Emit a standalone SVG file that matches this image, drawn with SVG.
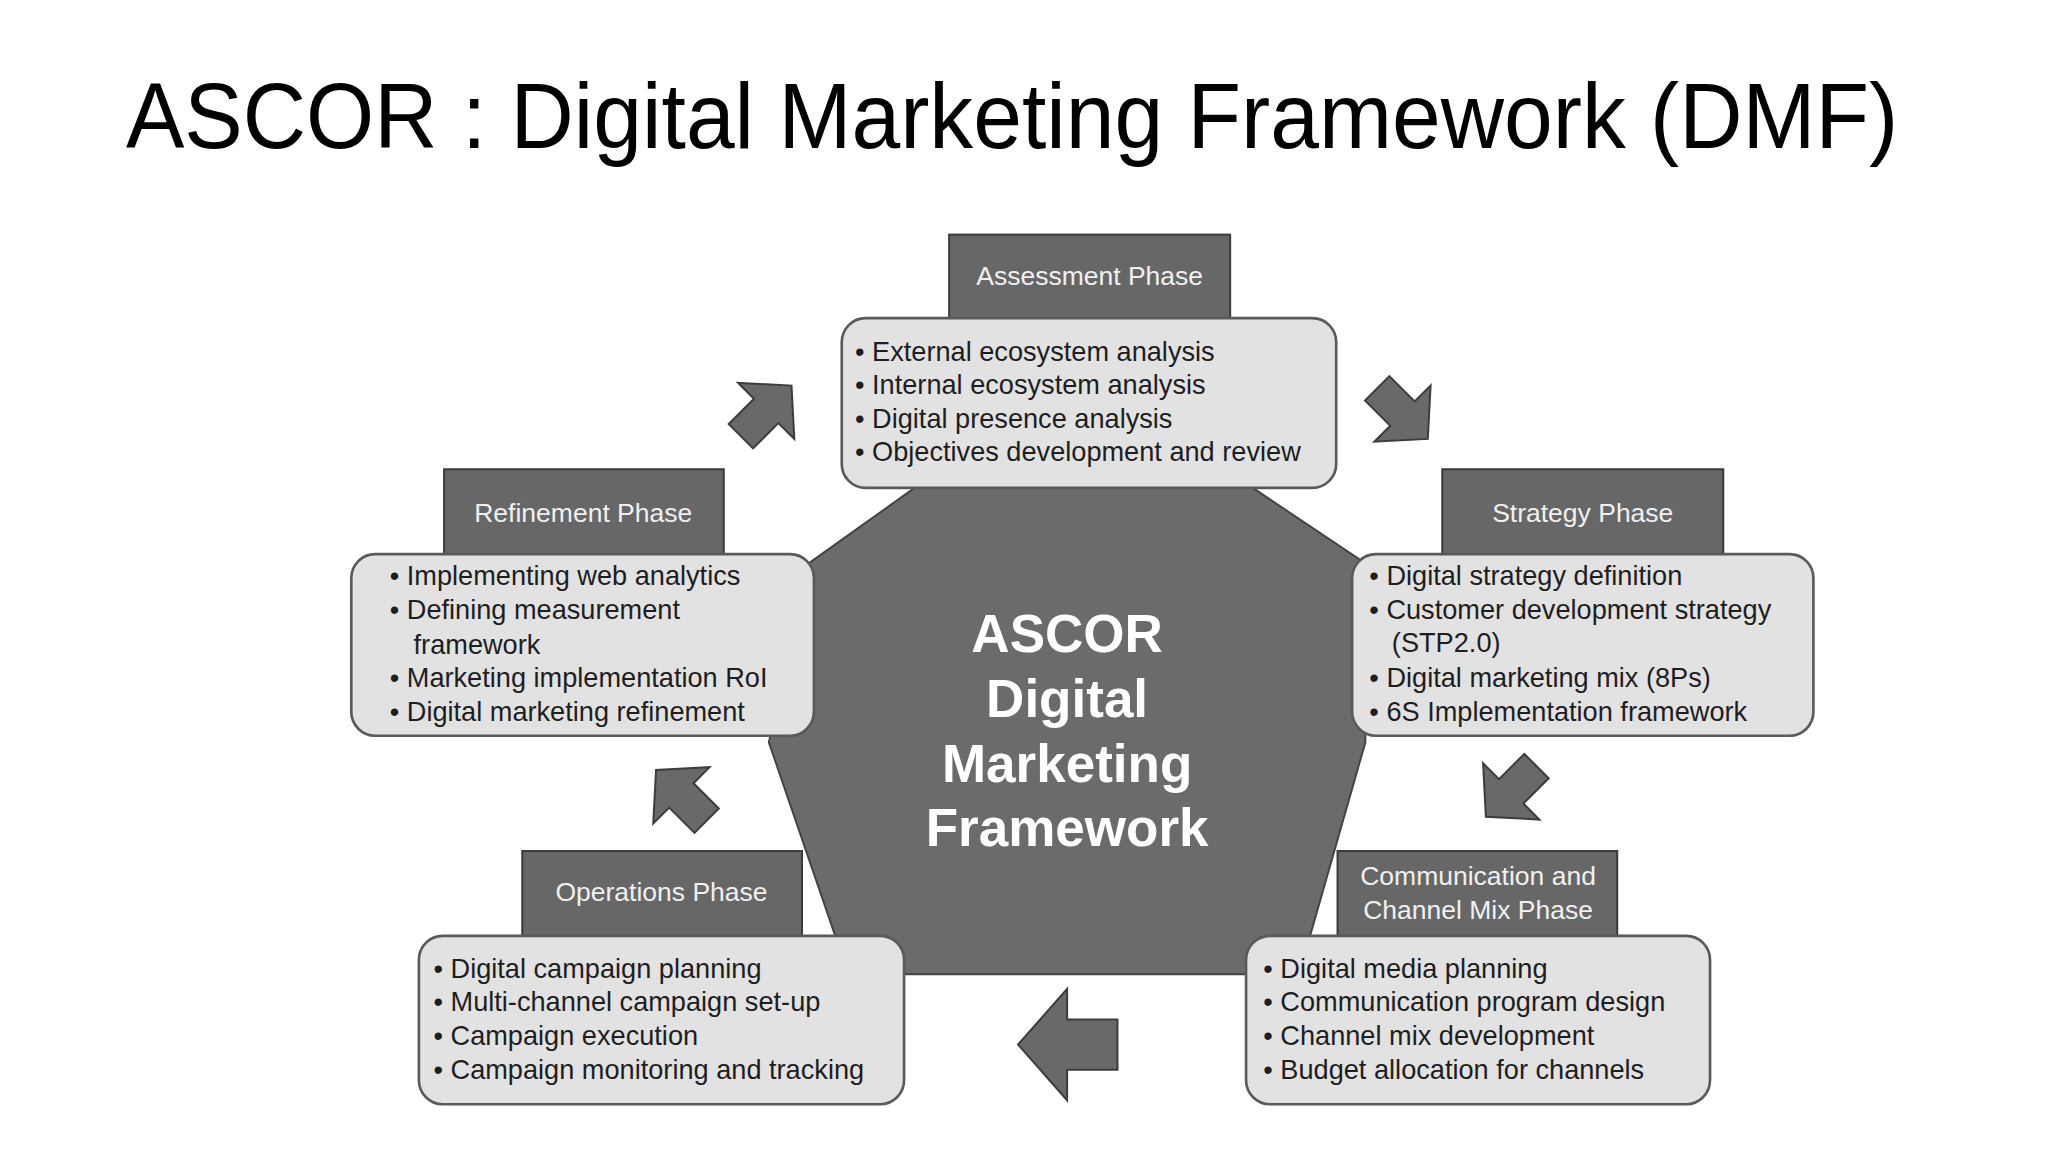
<svg xmlns="http://www.w3.org/2000/svg" width="2048" height="1152" viewBox="0 0 2048 1152">
<style>
.hdr{fill:#676767;stroke:#3a3a3a;stroke-width:1.5}
.box{fill:#e2e2e2;stroke:#5a5a5a;stroke-width:2}
.ht{font-family:"Liberation Sans",Arial,sans-serif;font-size:20px;fill:#f0f0f0;text-anchor:middle}
.bt{font-family:"Liberation Sans",Arial,sans-serif;font-size:20.5px;fill:#1e1e1e}
.arr{fill:#696969;stroke:#3c3c3c;stroke-width:1.5}
.ct{font-family:"Liberation Sans",Arial,sans-serif;font-size:40px;font-weight:bold;fill:#fff;text-anchor:middle}
</style>
<defs>
<polygon id="da" points="-27,-13 0,-13 0,-30 27,0 0,30 0,13 -27,13"/>
</defs>
<rect width="2048" height="1152" fill="#fff"/>
<g transform="scale(1.3256)">
<text x="95" y="112" font-family="Liberation Sans,Arial,sans-serif" font-size="70" fill="#000" textLength="1337" lengthAdjust="spacingAndGlyphs">ASCOR : Digital Marketing Framework (DMF)</text>
<g id="center">
<polygon points="690,368 945,368 1030,425 1030,560 980,735 640,735 580,560 610,425" fill="#6b6b6b" stroke="#444" stroke-width="1.5"/>
<text class="ct" x="805" y="492">ASCOR</text>
<text class="ct" x="805" y="541">Digital</text>
<text class="ct" x="805" y="590">Marketing</text>
<text class="ct" x="805" y="638">Framework</text>
</g>
<g id="connectors">
<use href="#da" class="arr" transform="translate(578,310) rotate(-45)"/>
<use href="#da" class="arr" transform="translate(1058,312) rotate(45)"/>
<use href="#da" class="arr" transform="translate(1140,597) rotate(135)"/>
<use href="#da" class="arr" transform="translate(514,600) rotate(-135)"/>
<polygon class="arr" points="843,769 805,769 805,746 768,788 805,830 805,807 843,807"/>
</g>
<g id="assessment">
<rect class="hdr" x="716" y="177" width="212" height="63"/>
<text class="ht" x="822" y="215">Assessment Phase</text>
<rect class="box" x="635" y="240" width="373" height="128" rx="18"/>
<text class="bt" x="645" y="272">• External ecosystem analysis</text>
<text class="bt" x="645" y="297">• Internal ecosystem analysis</text>
<text class="bt" x="645" y="323">• Digital presence analysis</text>
<text class="bt" x="645" y="348">• Objectives development and review</text>
</g>
<g id="strategy">
<rect class="hdr" x="1088" y="354" width="212" height="64"/>
<text class="ht" x="1194" y="394">Strategy Phase</text>
<rect class="box" x="1020" y="418" width="348" height="137" rx="18"/>
<text class="bt" x="1033" y="441">• Digital strategy definition</text>
<text class="bt" x="1033" y="467">• Customer development strategy</text>
<text class="bt" x="1050" y="492">(STP2.0)</text>
<text class="bt" x="1033" y="518">• Digital marketing mix (8Ps)</text>
<text class="bt" x="1033" y="544">• 6S Implementation framework</text>
</g>
<g id="refinement">
<rect class="hdr" x="335" y="354" width="211" height="64"/>
<text class="ht" x="440" y="394">Refinement Phase</text>
<rect class="box" x="265" y="418" width="349" height="137" rx="18"/>
<text class="bt" x="294" y="441">• Implementing web analytics</text>
<text class="bt" x="294" y="467">• Defining measurement</text>
<text class="bt" x="312" y="493">framework</text>
<text class="bt" x="294" y="518">• Marketing implementation RoI</text>
<text class="bt" x="294" y="544">• Digital marketing refinement</text>
</g>
<g id="operations">
<rect class="hdr" x="394" y="642" width="211" height="64"/>
<text class="ht" x="499" y="680">Operations Phase</text>
<rect class="box" x="316" y="706" width="366" height="127" rx="18"/>
<text class="bt" x="327" y="738">• Digital campaign planning</text>
<text class="bt" x="327" y="763">• Multi-channel campaign set-up</text>
<text class="bt" x="327" y="788">• Campaign execution</text>
<text class="bt" x="327" y="814">• Campaign monitoring and tracking</text>
</g>
<g id="communication">
<rect class="hdr" x="1009" y="642" width="211" height="64"/>
<text class="ht" x="1115" y="668">Communication and</text>
<text class="ht" x="1115" y="693">Channel Mix Phase</text>
<rect class="box" x="940" y="706" width="350" height="127" rx="18"/>
<text class="bt" x="953" y="738">• Digital media planning</text>
<text class="bt" x="953" y="763">• Communication program design</text>
<text class="bt" x="953" y="788">• Channel mix development</text>
<text class="bt" x="953" y="814">• Budget allocation for channels</text>
</g>
</g>
</svg>
